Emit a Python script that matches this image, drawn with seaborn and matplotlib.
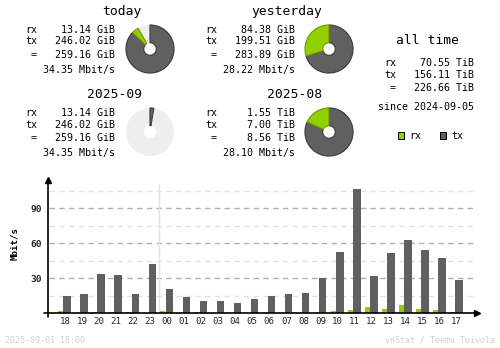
import numpy as np
import pandas as pd
import matplotlib
matplotlib.use("Agg")
import matplotlib.pyplot as plt
from matplotlib.patches import Rectangle
import seaborn as sns

# ---- data -----------------------------------------------------------------
hours = ["18", "19", "20", "21", "22", "23", "00", "01", "02", "03", "04", "05",
         "06", "07", "08", "09", "10", "11", "12", "13", "14", "15", "16", "17"]
rx_mbit = [2.0, 0.0, 1.1, 1.1, 1.1, 0.0, 2.0, 0.0, 1.1, 0.0, 0.0, 0.0,
           1.1, 0.0, 0.0, 1.1, 2.0, 2.9, 5.4, 3.7, 7.1, 3.7, 2.9, 1.1]
tx_mbit = [14.9, 16.6, 33.7, 32.9, 16.6, 42.3, 20.9, 14.0, 10.6, 10.6, 8.9, 12.3,
           14.9, 16.6, 17.4, 30.3, 52.6, 106.6, 32.0, 51.7, 62.9, 54.3, 47.4, 28.6]
y_ticks = [30, 60, 90]

period_titles = ["today", "yesterday", "2025-09", "2025-08"]
rx_text = ["13.14 GiB", "84.38 GiB", "13.14 GiB", "1.55 TiB"]
tx_text = ["246.02 GiB", "199.51 GiB", "246.02 GiB", "7.00 TiB"]
total_text = ["259.16 GiB", "283.89 GiB", "259.16 GiB", "8.56 TiB"]
rate_text = ["34.35 Mbit/s", "28.22 Mbit/s", "34.35 Mbit/s", "28.10 Mbit/s"]
pie_rx = [13.14, 84.38, 13.14, 1.55]
pie_tx = [246.02, 199.51, 246.02, 7.00]
pie_fill = [0.917, 1.0, 0.027, 1.0]

alltime_rx = "70.55 TiB"
alltime_tx = "156.11 TiB"
alltime_total = "226.66 TiB"
since_text = "since 2024-09-05"
stamp_text = "2025-09-01 18:00"
credit_text = "vnStat / Teemu Toivola"

# ---- style ----------------------------------------------------------------
RX_COL = "#92cf00"
TX_COL = "#606060"
RX_EDGE = "#6e9c00"
TX_EDGE = "#3a3a3a"
EMPTY_COL = "#eeeeee"
FOOT_COL = "#d0d0d0"

sns.set_theme(style="white")
plt.rcParams["font.family"] = ["DejaVu Sans Mono", "DejaVu Sans"]

W, H = 500, 348
fig = plt.figure(figsize=(W / 100, H / 100), dpi=100)
fig.patch.set_facecolor("white")


def fx(x):
    return x / W


def fy(y):
    return 1 - y / H


def put(x, y, s, ha="left", size=7.2, color="black", **kw):
    fig.text(fx(x), fy(y), s, ha=ha, va="baseline", fontsize=size, color=color, **kw)


# ---- summary blocks with donut pies ----------------------------------------
col_dx = [0, 180, 0, 180]
row_dy = [0, 0, 83, 83]
for i in range(4):
    dx, dy = col_dx[i], row_dy[i]
    put(142 + dx, 15.5 + dy, period_titles[i], ha="right", size=9.4)
    put(37 + dx, 32.7 + dy, "rx", ha="right")
    put(37 + dx, 44.5 + dy, "tx", ha="right")
    put(37 + dx, 57.7 + dy, "=", ha="right")
    put(115 + dx, 32.7 + dy, rx_text[i], ha="right")
    put(115 + dx, 44.5 + dy, tx_text[i], ha="right")
    put(115 + dx, 57.7 + dy, total_text[i], ha="right")
    put(115 + dx, 72.7 + dy, rate_text[i], ha="right")

    cx, cy = 150 + dx * 179 / 180, 49 + dy
    pax = fig.add_axes([fx(cx - 25), fy(cy + 25), 50 / W, 50 / H])
    total = pie_rx[i] + pie_tx[i]
    fill = pie_fill[i]
    vals = [pie_tx[i] / total * fill, pie_rx[i] / total * fill, max(1 - fill, 0)]
    wedges, _ = pax.pie(vals, colors=[TX_COL, RX_COL, EMPTY_COL], startangle=90,
                        counterclock=False, radius=1, normalize=False,
                        wedgeprops=dict(width=1 - 6.5 / 25, linewidth=0))
    wedges[0].set_edgecolor(TX_EDGE)
    wedges[0].set_linewidth(0.8)
    wedges[1].set_edgecolor(RX_EDGE)
    wedges[1].set_linewidth(0.8 if pie_rx[i] / total * fill > 0.01 else 0)
    wedges[0].set_zorder(2)
    wedges[1].set_zorder(2)
    wedges[2].set_zorder(1)
    pax.set_xlim(-1.04, 1.04)
    pax.set_ylim(-1.04, 1.04)
    pax.set_aspect("equal")
    pax.axis("off")

# ---- all time block ---------------------------------------------------------
put(428, 44, "all time", ha="center", size=9.4)
put(396, 65.7, "rx", ha="right")
put(396, 77.5, "tx", ha="right")
put(396, 91, "=", ha="right")
put(474, 65.7, alltime_rx, ha="right")
put(474, 77.5, alltime_tx, ha="right")
put(474, 91, alltime_total, ha="right")
put(474, 110, since_text, ha="right")

# legend
for x0, col, lab in [(398.3, RX_COL, "rx"), (440.3, TX_COL, "tx")]:
    fig.add_artist(Rectangle((fx(x0), fy(139.3)), 6 / W, 7 / H, transform=fig.transFigure,
                             facecolor=col, edgecolor="black", linewidth=0.7))
    put(x0 + 11, 139.3, lab, ha="left")

# ---- hourly bar chart ---------------------------------------------------------
left_px, right_px, zero_px, top_px = 48.3, 476.7, 313.3, 180.0
ax = fig.add_axes([fx(left_px), fy(zero_px), (right_px - left_px) / W, (zero_px - top_px) / H])
ax.set_facecolor("none")

pos = np.arange(len(hours))
df = pd.DataFrame({"pos": pos, "rx": rx_mbit, "tx": tx_mbit})

for v in [15, 45, 75, 105]:
    ax.axhline(v, xmin=0.002, xmax=0.9907, color="#e2e2e2", lw=1, ls=(0, (4, 3)), zorder=0)
for v in y_ticks:
    ax.axhline(v, xmin=0.002, xmax=0.9907, color="#b0b0b0", lw=1, ls=(0, (4, 3)), zorder=0)
ax.plot([5.5, 5.5], [0, 110.8], color="#e2e2e2", lw=1, zorder=0)

sns.barplot(x=df["pos"] + 0.13, y=df["tx"], native_scale=True, width=0.45,
            color=TX_COL, saturation=1, errorbar=None, linewidth=0, ax=ax, zorder=2)
sns.barplot(x=df["pos"] - 0.25, y=df["rx"], native_scale=True, width=0.29,
            color=RX_COL, saturation=1, errorbar=None, linewidth=0, ax=ax, zorder=2)

ax.set_xlim(-(65 - left_px) / 17.03, (right_px - 65) / 17.03)
ax.set_ylim(0, (zero_px - top_px) / 35 * 30)
for s in ax.spines.values():
    s.set_visible(False)

ax.set_xticks(pos)
ax.set_xticklabels(hours, fontsize=6.6)
ax.set_yticks(y_ticks)
ax.set_yticklabels([str(v) for v in y_ticks], fontsize=6.8, fontweight="bold")
ax.tick_params(axis="x", length=0, pad=2.4)
ax.tick_params(axis="y", length=0, pad=4.3)
ax.set_xlabel("")
ax.set_ylabel("")

# axis lines with arrow heads
ax.plot([-0.01, 1.0], [0, 0], color="black", lw=1.2, transform=ax.transAxes, clip_on=False, zorder=3)
ax.plot([0, 0], [-0.0255, 1.0], color="black", lw=1.2, transform=ax.transAxes, clip_on=False, zorder=3)
ax.plot([1.0], [0], marker=">", ms=4, color="black", transform=ax.transAxes, clip_on=False, zorder=3)
ax.plot([0], [1.0], marker="^", ms=4, color="black", transform=ax.transAxes, clip_on=False, zorder=3)

fig.text(fx(15), fy(243), "Mbit/s", rotation=90, ha="center", va="center",
         fontsize=6.6, fontweight="bold", color="black")

# ---- footer -------------------------------------------------------------------
put(5, 342.7, stamp_text, ha="left", size=6.0, color=FOOT_COL)
put(495, 342.7, credit_text, ha="right", size=6.0, color=FOOT_COL)

fig.savefig("out.png", dpi=100, facecolor="white")
